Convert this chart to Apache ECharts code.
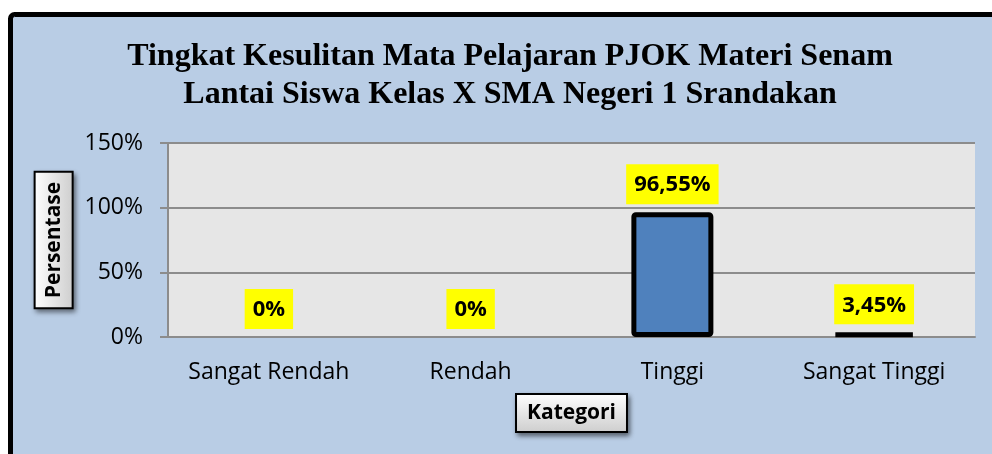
<!DOCTYPE html>
<html>
<head>
<meta charset="utf-8">
<script src="https://cdn.jsdelivr.net/npm/echarts@6/dist/echarts.min.js"></script>
<style>
html,body{margin:0;padding:0;background:#ffffff;}
#chart{width:992px;height:454px;}
</style>
</head>
<body>
<div id="chart"></div>
<script>
const titleText = 'Tingkat Kesulitan Mata Pelajaran PJOK Materi Senam\nLantai Siswa Kelas X SMA Negeri 1 Srandakan';
const categories = ['Sangat Rendah', 'Rendah', 'Tinggi', 'Sangat Tinggi'];
const values = [0, 0, 96.55, 3.45];
const valueLabels = ['0%', '0%', '96,55%', '3,45%'];
const yTicks = [0, 50, 100, 150];
const yAxisName = 'Persentase';
const xAxisName = 'Kategori';

const sans = '"Open Sans", "Noto Sans", sans-serif';
const boxGradient = {
  type: 'linear', x: 0, y: 0, x2: 0, y2: 1,
  colorStops: [{offset: 0, color: '#ffffff'}, {offset: 1, color: '#cdcdcd'}]
};

const chart = echarts.init(document.getElementById('chart'), null, {renderer: 'canvas'});
chart.setOption({
  animation: false,
  backgroundColor: '#ffffff',
  graphic: [{
    type: 'rect', z: -10, silent: true,
    shape: {x: 10.5, y: 14.5, width: 1000, height: 500, r: 4},
    style: {fill: '#B9CDE5', stroke: '#000000', lineWidth: 5}
  }],
  title: {
    text: titleText,
    left: 505, top: 33, textAlign: 'center',
    textStyle: {fontFamily: '"Liberation Serif", serif', fontWeight: 'bold', fontSize: 32, lineHeight: 38, color: '#000000'}
  },
  grid: {left: 168, right: 17, top: 143, bottom: 117, show: true, backgroundColor: '#E6E6E6', borderWidth: 0},
  xAxis: {
    type: 'category', data: categories,
    name: xAxisName, nameLocation: 'middle', nameGap: 58,
    nameTextStyle: {
      fontFamily: sans, fontWeight: 'bold', fontSize: 21, color: '#000000',
      backgroundColor: boxGradient, borderColor: '#000000', borderWidth: 2,
      padding: [8, 10, 7, 10],
      shadowColor: 'rgba(0,0,0,0.45)', shadowBlur: 5, shadowOffsetX: 2, shadowOffsetY: 3
    },
    axisLine: {lineStyle: {color: '#8c8c8c', width: 2}},
    axisTick: {show: false},
    axisLabel: {fontFamily: sans, fontSize: 23, color: '#000000', margin: 24, interval: 0}
  },
  yAxis: {
    type: 'value', min: yTicks[0], max: yTicks[yTicks.length - 1], interval: 50,
    name: yAxisName, nameLocation: 'middle', nameGap: 106, nameRotate: 90,
    nameTextStyle: {
      fontFamily: sans, fontWeight: 'bold', fontSize: 21, color: '#000000',
      backgroundColor: boxGradient, borderColor: '#000000', borderWidth: 2,
      padding: [8, 9, 7, 9], verticalAlign: 'middle',
      shadowColor: 'rgba(0,0,0,0.45)', shadowBlur: 5, shadowOffsetX: 2, shadowOffsetY: 3
    },
    axisLine: {show: true, lineStyle: {color: '#8c8c8c', width: 2}},
    axisTick: {show: true, length: 8, lineStyle: {color: '#8c8c8c', width: 2}},
    splitLine: {show: true, lineStyle: {color: '#8c8c8c', width: 2}},
    axisLabel: {fontFamily: sans, fontSize: 23, color: '#000000', margin: 25, formatter: v => v + '%'}
  },
  series: [{
    type: 'bar',
    barWidth: 82,
    data: values.map(v => ({value: v, itemStyle: v === 0 ? {borderWidth: 0, color: 'transparent'} : undefined})),
    itemStyle: {color: '#4F81BD', borderColor: '#000000', borderWidth: 5, borderRadius: 2},
    label: {
      show: true, position: 'top', distance: 8,
      formatter: p => valueLabels[p.dataIndex],
      fontFamily: sans, fontWeight: 'bold', fontSize: 22, color: '#000000',
      backgroundColor: '#FFFF00', padding: [10, 8, 8, 8]
    }
  }]
});
</script>
</body>
</html>
